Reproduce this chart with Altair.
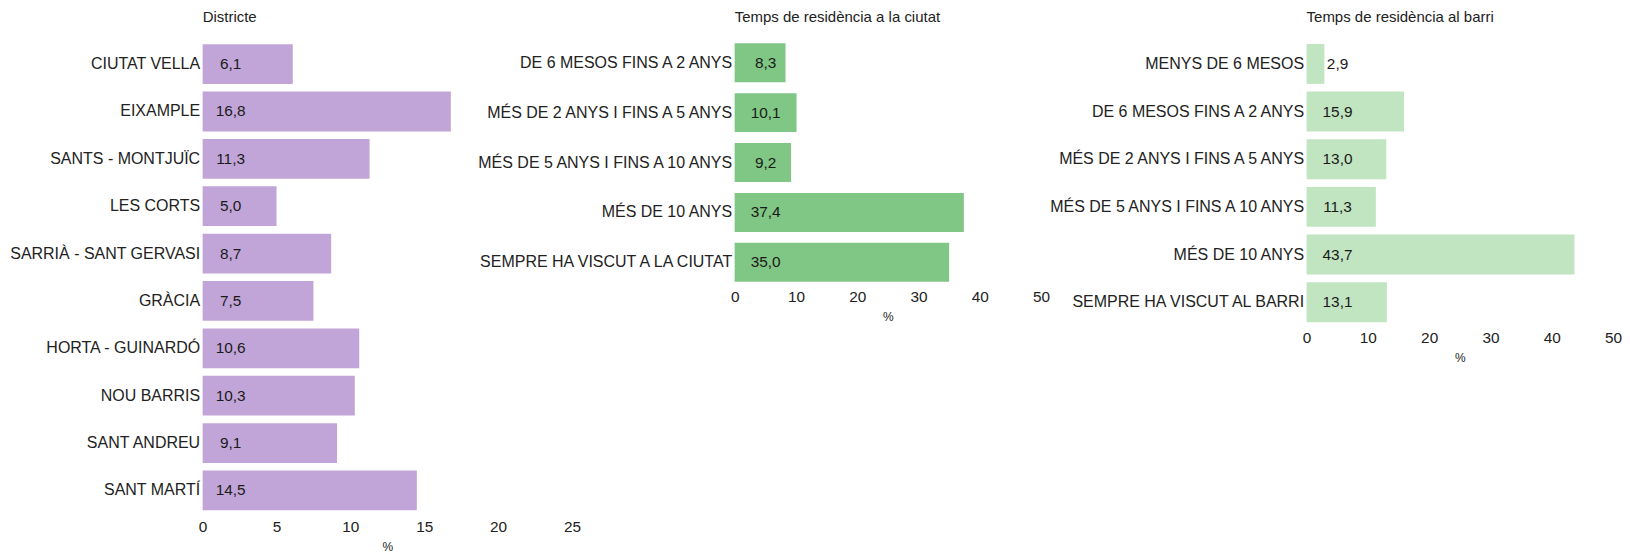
import altair as alt
import pandas as pd

# ---- data ----
districte_cats = ["CIUTAT VELLA", "EIXAMPLE", "SANTS - MONTJUÏC", "LES CORTS",
                  "SARRIÀ - SANT GERVASI", "GRÀCIA", "HORTA - GUINARDÓ",
                  "NOU BARRIS", "SANT ANDREU", "SANT MARTÍ"]
districte_vals = [6.1, 16.8, 11.3, 5.0, 8.7, 7.5, 10.6, 10.3, 9.1, 14.5]

ciutat_cats = ["DE 6 MESOS FINS A 2 ANYS", "MÉS DE 2 ANYS I FINS A 5 ANYS",
               "MÉS DE 5 ANYS I FINS A 10 ANYS", "MÉS DE 10 ANYS",
               "SEMPRE HA VISCUT A LA CIUTAT"]
ciutat_vals = [8.3, 10.1, 9.2, 37.4, 35.0]

barri_cats = ["MENYS DE 6 MESOS", "DE 6 MESOS FINS A 2 ANYS",
              "MÉS DE 2 ANYS I FINS A 5 ANYS", "MÉS DE 5 ANYS I FINS A 10 ANYS",
              "MÉS DE 10 ANYS", "SEMPRE HA VISCUT AL BARRI"]
barri_vals = [2.9, 15.9, 13.0, 11.3, 43.7, 13.1]

titles = ["Districte", "Temps de residència a la ciutat", "Temps de residència al barri"]
x_ticks_1 = [0, 5, 10, 15, 20, 25]
x_ticks_2 = [0, 10, 20, 30, 40, 50]

FONT = "Liberation Sans, Arial, sans-serif"


def panel(cats, vals, title, color, xmax, ticks, width, xrange, height,
          pad_in, pad_out, dx):
    df = pd.DataFrame({
        "cat": cats,
        "val": vals,
        "label": [f"{v:.1f}".replace(".", ",") for v in vals],
        "zero": [0] * len(vals),
    })
    y = alt.Y("cat:N", sort=None, title=None,
              scale=alt.Scale(paddingInner=pad_in, paddingOuter=pad_out),
              axis=alt.Axis(ticks=False, domain=False, labelFontSize=16,
                            labelPadding=3, labelLimit=500, labelColor="#222222",
                            labelFont=FONT))
    xscale = alt.Scale(domain=[0, xmax], nice=False, range=[0, xrange])
    xaxis = alt.Axis(values=ticks, grid=False, ticks=False, domain=False,
                     labelFlush=False,
                     labelFontSize=15.4, labelPadding=5, labelColor="#222222",
                     labelFont=FONT, titleFontSize=12, titleFontWeight="normal",
                     titleColor="#222222", titleFont=FONT, titlePadding=7)
    bars = alt.Chart(df).mark_bar(color=color).encode(
        x=alt.X("val:Q", title="%", scale=xscale, axis=xaxis),
        y=y,
    )
    text = alt.Chart(df).mark_text(align="center", baseline="middle", dx=dx,
                                   fontSize=15.4, color="#1a1a1a", font=FONT).encode(
        x=alt.X("zero:Q", title="%", scale=xscale, axis=xaxis),
        y=y,
        text="label:N",
    )
    return alt.layer(bars, text).properties(
        width=width, height=height,
        title=alt.TitleParams(title, anchor="start", frame="group", fontSize=15,
                              fontWeight="normal", color="#222222", font=FONT,
                              offset=15),
    )


p1 = panel(districte_cats, districte_vals, titles[0], "#c2a5d8", 25, x_ticks_1,
           370, 370, 474.5, 0.16, 0.08, 28)
p2 = panel(ciutat_cats, ciutat_vals, titles[1], "#80c684", 50, x_ticks_2,
           410, 307, 244.6, 0.22, 0.056, 31)
p3 = panel(barri_cats, barri_vals, titles[2], "#c1e4c1", 50, x_ticks_2,
           307, 307, 285.7, 0.162, 0.073, 31)

chart = alt.hconcat(p1, p2, p3, spacing=163, bounds="flush").properties(
    padding={"left": 1, "top": 2, "right": 0, "bottom": 0}
).configure_view(stroke=None)

chart.save("out.html", embed_options={"renderer": "svg", "actions": False})
